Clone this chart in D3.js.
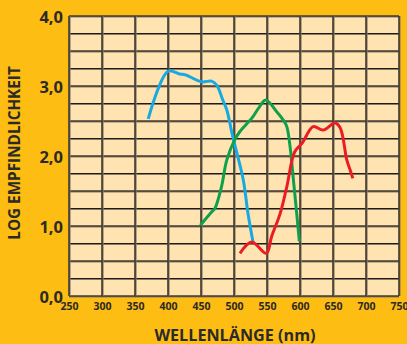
<!DOCTYPE html>
<html>
<head>
<meta charset="utf-8">
<script src="https://cdn.jsdelivr.net/npm/d3@7"></script>
<style>
  html, body { margin: 0; padding: 0; background: #FDBD12; }
  svg { display: block; }
  text { font-family: "Open Sans", "Noto Sans", sans-serif; font-weight: 700; fill: #2b2a26; }
</style>
</head>
<body>
<svg id="chart" width="407" height="344"></svg>
<script>
// Spectral sensitivity of the three cone types (log sensitivity vs. wavelength)
const blueWave = [370, 400, 418, 426, 451, 466, 474, 483, 489, 498, 514, 521, 529];
const blueLog  = [2.53, 3.21, 3.17, 3.16, 3.06, 3.07, 3.01, 2.80, 2.66, 2.28, 1.66, 1.19, 0.76];

const greenWave = [449, 466, 471, 481, 489, 501, 509, 527, 537, 548, 565, 575, 580, 585, 590, 595, 599];
const greenLog  = [1.01, 1.20, 1.25, 1.56, 1.94, 2.23, 2.35, 2.54, 2.68, 2.80, 2.63, 2.51, 2.42, 2.13, 1.66, 1.18, 0.78];

const redWave = [509, 527, 549, 557, 570, 580, 592, 603, 620, 635, 653, 661, 671, 676, 680];
const redLog  = [0.61, 0.77, 0.61, 0.85, 1.18, 1.56, 2.06, 2.18, 2.42, 2.37, 2.47, 2.40, 1.94, 1.80, 1.68];

const xTicks = [250, 300, 350, 400, 450, 500, 550, 600, 650, 700, 750];
const yTicks = [0, 1, 2, 3, 4];
const yTickLabels = ["0,0", "1,0", "2,0", "3,0", "4,0"];
const xTitle = "WELLENLÄNGE (nm)";
const yTitle = "LOG EMPFINDLICHKEIT";

const svg = d3.select("#chart");
const plotL = 69, plotR = 399, plotT = 16, plotB = 296;

const x = d3.scaleLinear().domain([250, 750]).range([plotL, plotR]);
const y = d3.scaleLinear().domain([0, 4]).range([plotB, plotT]);

// plot background
svg.append("rect")
  .attr("x", plotL).attr("y", plotT)
  .attr("width", plotR - plotL).attr("height", plotB - plotT)
  .attr("fill", "#FFE4B2");

// horizontal grid every 0.25
const hLines = d3.range(0, 4.001, 0.25);
svg.append("g").selectAll("line").data(hLines).join("line")
  .attr("x1", plotL).attr("x2", plotR)
  .attr("y1", d => y(d) + 0.5).attr("y2", d => y(d) + 0.5)
  .attr("stroke", "#8a7b64").attr("stroke-width", 2.2);
svg.append("g").selectAll("line").data(hLines).join("line")
  .attr("x1", plotL).attr("x2", plotR)
  .attr("y1", d => y(d)).attr("y2", d => y(d))
  .attr("stroke", "#1e1c18").attr("stroke-width", 1.1);

// vertical grid every 50 nm
svg.append("g").selectAll("line").data(xTicks).join("line")
  .attr("x1", d => x(d) + 0.5).attr("x2", d => x(d) + 0.5)
  .attr("y1", plotT).attr("y2", plotB)
  .attr("stroke", "#8a7b64").attr("stroke-width", 2.2);
svg.append("g").selectAll("line").data(xTicks).join("line")
  .attr("x1", d => x(d)).attr("x2", d => x(d))
  .attr("y1", plotT).attr("y2", plotB)
  .attr("stroke", "#1e1c18").attr("stroke-width", 1.1);

// y axis labels
const yAxis = d3.axisLeft(y).tickValues(yTicks)
  .tickFormat((d, i) => yTickLabels[i]).tickSize(0).tickPadding(6);
const gy = svg.append("g").attr("transform", `translate(${plotL},0)`).call(yAxis);
gy.select(".domain").remove();
gy.selectAll("text").attr("font-size", 16.5).attr("dy", "0.42em")
  .style("font-family", "'Open Sans', sans-serif").style("font-weight", 700);

// x axis labels
const xAxis = d3.axisBottom(x).tickValues(xTicks).tickSize(0).tickPadding(7);
const gx = svg.append("g").attr("transform", `translate(0,${plotB})`).call(xAxis);
gx.select(".domain").remove();
gx.selectAll("text").attr("font-size", 10.5)
  .style("font-family", "'Open Sans', sans-serif").style("font-weight", 700);

// axis titles
svg.append("text").attr("x", 235).attr("y", 340.5)
  .attr("text-anchor", "middle").attr("font-size", 16.2).text(xTitle);
svg.append("text")
  .attr("transform", `translate(20,153) rotate(-90)`)
  .attr("text-anchor", "middle").attr("font-size", 15.3).text(yTitle);

// sensitivity curves
const line = d3.line().x(d => x(d[0])).y(d => y(d[1])).curve(d3.curveCatmullRom.alpha(0.5));
const series = [
  { wave: blueWave, log: blueLog, color: "#17A9E1" },
  { wave: greenWave, log: greenLog, color: "#0FA14A" },
  { wave: redWave, log: redLog, color: "#EC1C24" }
];
series.forEach(s => {
  svg.append("path")
    .datum(d3.zip(s.wave, s.log))
    .attr("d", line)
    .attr("fill", "none")
    .attr("stroke", s.color)
    .attr("stroke-width", 3)
    .attr("stroke-linejoin", "round")
    .attr("stroke-linecap", "butt");
});
</script>
</body>
</html>
